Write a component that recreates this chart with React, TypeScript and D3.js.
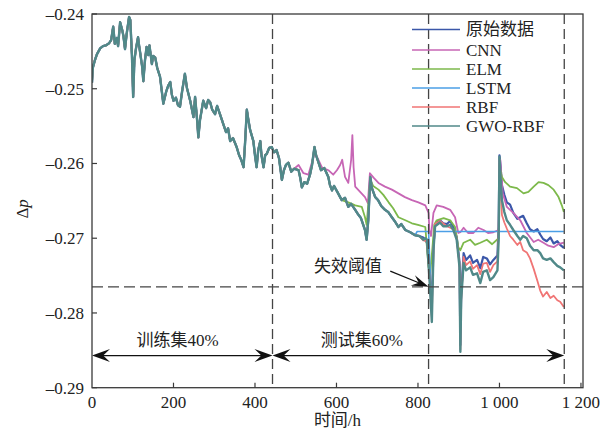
import React from 'react';
import * as d3 from 'd3';

// ---------- data ----------
const xTicks = [0, 200, 400, 600, 800, 1000, 1200];
const yTicks = [-0.24, -0.25, -0.26, -0.27, -0.28, -0.29];
const seriesNames = ['原始数据', 'CNN', 'ELM', 'LSTM', 'RBF', 'GWO-RBF'];
const seriesColors = ['#3b57a9', '#c766b5', '#7db94b', '#4b9fe6', '#f07575', '#508989'];

const trainEnd = 443; // h
const failureTime = 826; // h
const testEnd = 1159; // h
const failureThreshold = -0.2765;
const arrowLevel = -0.2857;

// shared history (all models overlap)
const commonPath: [number, number][] = [
  [0, -0.2492], [2, -0.2472], [7, -0.2462], [12, -0.2454], [20, -0.2446], [27, -0.2443], [34, -0.2442], [42, -0.2439], [47, -0.2435],
  [52, -0.2417], [54, -0.2428], [56, -0.244], [61, -0.2432], [64, -0.2443], [69, -0.2411], [74, -0.2421], [77, -0.2429], [81, -0.2447],
  [85, -0.2427], [91, -0.2404], [94, -0.2408], [98, -0.2455], [101, -0.2511], [104, -0.2462], [108, -0.2446], [113, -0.2431], [115, -0.244],
  [118, -0.2451], [123, -0.247], [126, -0.249], [130, -0.2462], [134, -0.2444], [138, -0.2455], [141, -0.2442], [147, -0.2467], [150, -0.2456],
  [155, -0.2458], [160, -0.2472], [167, -0.2484], [171, -0.2502], [175, -0.252], [182, -0.2504], [187, -0.2496], [192, -0.2491], [196, -0.2508],
  [200, -0.2516], [206, -0.2512], [211, -0.2522], [216, -0.2524], [221, -0.2504], [228, -0.248], [233, -0.2499], [241, -0.2516], [249, -0.2538],
  [253, -0.2511], [258, -0.2542], [261, -0.2565], [265, -0.2542], [273, -0.2516], [280, -0.2526], [285, -0.2515], [290, -0.2518], [295, -0.2528],
  [302, -0.2534], [307, -0.2523], [314, -0.2534], [319, -0.2542], [322, -0.2547], [329, -0.2558], [334, -0.2553], [339, -0.257], [346, -0.2566],
  [355, -0.2578], [361, -0.2589], [366, -0.2595], [372, -0.2605], [376, -0.2569], [380, -0.2528], [383, -0.2539], [388, -0.2555], [396, -0.257],
  [400, -0.2589], [404, -0.2605], [408, -0.2582], [413, -0.257], [416, -0.2589], [421, -0.2605], [425, -0.2589], [429, -0.2587], [435, -0.2579],
  [441, -0.2578], [447, -0.2585], [453, -0.2582],
  [459, -0.2593], [466, -0.2622], [471, -0.2609], [476, -0.2602], [482, -0.2599], [489, -0.2611], [496, -0.2607], [507, -0.2609], [511, -0.2619],
  [515, -0.2632], [521, -0.2625], [528, -0.2627], [535, -0.2615], [540, -0.2602], [546, -0.2578], [550, -0.2589], [556, -0.2599], [562, -0.2609],
  [570, -0.2606], [580, -0.2618], [584, -0.2629], [589, -0.2636], [594, -0.263], [602, -0.2638], [613, -0.2649], [621, -0.2646], [629, -0.2658],
  [636, -0.2654], [646, -0.2662], [653, -0.2668], [660, -0.2673], [670, -0.2689], [674, -0.2702], [678, -0.2676], [683, -0.2618], [687, -0.2633],
  [695, -0.2645], [702, -0.2649], [710, -0.2657], [719, -0.2662], [727, -0.2665], [736, -0.2672], [744, -0.2678], [752, -0.2685], [759, -0.2681],
  [769, -0.2689], [781, -0.2692], [793, -0.2696], [803, -0.2697],
];

const rawSplit = 803;
const rawTail: [number, number][] = [
  [813, -0.2699], [822, -0.2706], [828, -0.2743], [832, -0.2778], [836, -0.2756], [838, -0.2709], [842, -0.2681], [854, -0.2676], [862, -0.268],
  [871, -0.2681], [879, -0.2677], [887, -0.2685], [895, -0.2698], [902, -0.2732], [904, -0.2843], [906, -0.2776], [912, -0.272], [918, -0.2729],
  [928, -0.2723], [935, -0.2733], [945, -0.2729], [953, -0.274], [960, -0.2725], [969, -0.2727], [977, -0.2735], [985, -0.2729], [995, -0.2723],
  [998, -0.2684], [1000, -0.2589], [1003, -0.2606], [1006, -0.2629], [1012, -0.2642], [1018, -0.2652], [1026, -0.2655], [1034, -0.2666],
  [1044, -0.2674], [1051, -0.2672], [1058, -0.267], [1067, -0.268], [1075, -0.2688], [1084, -0.2691], [1093, -0.2688], [1100, -0.2695],
  [1107, -0.2701], [1116, -0.2704], [1125, -0.2699], [1133, -0.2707], [1142, -0.2704], [1149, -0.2709], [1158, -0.2713],
];

const cnnSplit = 496;
const cnnTail: [number, number][] = [
  [507, -0.2602], [519, -0.2613], [531, -0.2615], [547, -0.2585], [564, -0.2605], [580, -0.2609], [592, -0.2615], [601, -0.2609], [609, -0.2602],
  [614, -0.2595], [621, -0.2618], [629, -0.2626], [636, -0.2595], [639, -0.2562], [642, -0.2605], [646, -0.2631], [658, -0.2638], [670, -0.2645],
  [677, -0.2653], [682, -0.2613], [691, -0.2619], [703, -0.2626], [719, -0.2631], [736, -0.2635], [752, -0.264], [768, -0.2645], [785, -0.2649],
  [801, -0.2652], [818, -0.2656], [826, -0.2666], [828, -0.2689], [832, -0.2697], [838, -0.2666], [846, -0.2656], [862, -0.2658], [879, -0.2662],
  [891, -0.2672], [899, -0.2693], [904, -0.2692], [912, -0.2686], [923, -0.2693], [936, -0.2693], [948, -0.2686], [961, -0.2689], [972, -0.2693],
  [985, -0.2692], [998, -0.2689], [1002, -0.2595], [1008, -0.264], [1018, -0.2658], [1026, -0.2662], [1034, -0.2666], [1051, -0.2676],
  [1067, -0.2693], [1084, -0.2705], [1095, -0.2702], [1108, -0.2706], [1120, -0.271], [1133, -0.2712], [1144, -0.2708], [1158, -0.2706],
];

const elmSplit = 602;
const elmTail: [number, number][] = [
  [613, -0.2649], [629, -0.2652], [646, -0.2656], [662, -0.2658], [670, -0.2672], [674, -0.2682], [683, -0.2622], [690, -0.263], [703, -0.2635],
  [715, -0.2642], [728, -0.2652], [739, -0.266], [752, -0.2672], [769, -0.2676], [785, -0.268], [800, -0.2682], [818, -0.2685], [826, -0.2739],
  [830, -0.2747], [835, -0.2716], [840, -0.2682], [846, -0.2676], [863, -0.2673], [879, -0.2676], [891, -0.2685], [899, -0.2712], [904, -0.2716],
  [912, -0.2706], [928, -0.2702], [940, -0.2709], [953, -0.2706], [969, -0.2702], [982, -0.2708], [998, -0.27], [1002, -0.2609], [1006, -0.2618],
  [1014, -0.2625], [1026, -0.2631], [1043, -0.2633], [1059, -0.264], [1071, -0.2638], [1084, -0.2631], [1096, -0.2625], [1108, -0.2626],
  [1120, -0.2629], [1133, -0.2635], [1145, -0.2645], [1153, -0.2656], [1158, -0.2665],
];

const lstmSplit = 793;
const lstmTail: [number, number][] = [
  [798, -0.2691], [826, -0.2691], [830, -0.2745], [834, -0.28], [838, -0.2712], [842, -0.2691], [1158, -0.2691],
];

const rbfSplit = 803;
const rbfTail: [number, number][] = [
  [813, -0.2703], [822, -0.2704], [828, -0.2749], [834, -0.2805], [838, -0.2716], [842, -0.2681], [854, -0.2677], [871, -0.2684], [887, -0.2688],
  [895, -0.27], [902, -0.2736], [904, -0.2849], [906, -0.2783], [912, -0.2725], [918, -0.2736], [928, -0.2731], [935, -0.2741], [945, -0.2736],
  [953, -0.2748], [960, -0.2734], [969, -0.2733], [977, -0.2745], [985, -0.2736], [995, -0.2731], [998, -0.269], [1000, -0.2596], [1003, -0.2622],
  [1006, -0.2669], [1012, -0.2679], [1018, -0.2687], [1026, -0.2697], [1034, -0.2702], [1044, -0.2709], [1051, -0.2705], [1058, -0.2716],
  [1067, -0.2719], [1075, -0.2727], [1084, -0.2741], [1093, -0.2757], [1100, -0.277], [1107, -0.2778], [1116, -0.2772], [1125, -0.278],
  [1133, -0.2777], [1142, -0.2783], [1149, -0.2785], [1158, -0.2792],
];

const gwoSplit = 803;
const gwoTail: [number, number][] = [
  [813, -0.2702], [818, -0.27], [822, -0.2702], [828, -0.2752], [834, -0.2812], [838, -0.2716], [842, -0.2684], [854, -0.2679], [862, -0.2684],
  [871, -0.2684], [879, -0.2682], [887, -0.2689], [895, -0.2702], [902, -0.2739], [904, -0.2852], [906, -0.2783], [912, -0.2733], [918, -0.2743],
  [928, -0.2739], [935, -0.2749], [945, -0.2747], [953, -0.276], [960, -0.2745], [969, -0.2743], [977, -0.2756], [985, -0.2752], [995, -0.2743],
  [998, -0.2702], [1000, -0.2591], [1003, -0.2622], [1006, -0.2649], [1012, -0.2665], [1018, -0.2676], [1026, -0.2682], [1034, -0.2689],
  [1044, -0.2697], [1051, -0.2702], [1058, -0.2697], [1067, -0.27], [1075, -0.271], [1084, -0.2716], [1093, -0.2716], [1100, -0.272],
  [1107, -0.2727], [1116, -0.2729], [1125, -0.2727], [1133, -0.2732], [1142, -0.2737], [1149, -0.2739], [1158, -0.2743],
];

const splits = [rawSplit, cnnSplit, elmSplit, lstmSplit, rbfSplit, gwoSplit];
const tails = [rawTail, cnnTail, elmTail, lstmTail, rbfTail, gwoTail];
const strokeWidths = [2.2, 1.8, 1.8, 1.6, 1.8, 2.4];

// ---------- layout ----------
const W = 611;
const H = 432;
const M = { left: 92, right: 583, top: 14, bottom: 387.7 };
const FONT = "'Liberation Serif', 'Times New Roman', 'Noto Sans CJK SC', serif";
const AXIS = '#3a3a3a';

export default function App() {
  const x = d3.scaleLinear().domain([0, 1205]).range([M.left, M.right]);
  const y = d3.scaleLinear().domain([-0.29, -0.24]).range([M.bottom, M.top]);
  const line = d3
    .line<[number, number]>()
    .x((d) => x(d[0]))
    .y((d) => y(d[1]));

  const series = seriesNames.map((name, i) => ({
    name,
    color: seriesColors[i],
    width: strokeWidths[i],
    data: [...commonPath.filter((d) => d[0] <= splits[i]), ...tails[i]],
  }));

  const fmtX = (v: number) => (v >= 1000 ? d3.format(',')(v).replace(',', ' ') : String(v));
  const fmtY = (v: number) => d3.format('.2f')(v).replace('−', '–');

  // stealth-style arrow head path, tip at (tx,ty) pointing along angle a
  const head = (tx: number, ty: number, a: number, L = 18, Wd = 13) => {
    const c = Math.cos(a), s = Math.sin(a);
    const p = (u: number, v: number) => [tx - u * c - v * -s, ty - u * s - v * c];
    const b1 = p(L, Wd / 2), b2 = p(L, -Wd / 2), n = p(L * 0.62, 0);
    return `M${tx},${ty}L${b1[0]},${b1[1]}L${n[0]},${n[1]}L${b2[0]},${b2[1]}Z`;
  };

  const ay = y(arrowLevel);
  const xl = x(0), xm = x(trainEnd), xr = x(testEnd);
  const annTip: [number, number] = [x(failureTime), y(failureThreshold)];
  const annStart: [number, number] = [x(732), y(-0.2744)];
  const annAng = Math.atan2(annTip[1] - annStart[1], annTip[0] - annStart[0]);

  const legendY = (i: number) => (i === 0 ? 29.5 : 50 + (i - 1) * 19);

  return (
    <svg
      width={W}
      height={H}
      style={{ position: 'absolute', left: 0, top: 0, background: '#fff', display: 'block' }}
      fontFamily={FONT}
    >
      <rect x={0} y={0} width={W} height={H} fill="#fff" />
      <defs>
        <clipPath id="plotclip">
          <rect x={M.left} y={M.top} width={M.right - M.left} height={M.bottom - M.top} />
        </clipPath>
      </defs>

      {/* series */}
      <g clipPath="url(#plotclip)" fill="none" strokeLinejoin="round">
        {series.map((s) => (
          <path key={s.name} d={line(s.data) || ''} stroke={s.color} strokeWidth={s.width} />
        ))}
      </g>

      {/* dashed reference lines */}
      <g stroke="#444" strokeWidth={1.3} strokeDasharray="10,5" fill="none">
        {[trainEnd, failureTime, testEnd].map((t) => (
          <line key={t} x1={x(t)} x2={x(t)} y1={M.top} y2={M.bottom} />
        ))}
        <line x1={M.left} x2={M.right} y1={y(failureThreshold)} y2={y(failureThreshold)} strokeDasharray="11,5" />
      </g>

      {/* train/test arrows */}
      <g stroke="#111" strokeWidth={1.3} fill="#111">
        <line x1={xl + 8} x2={xm - 8} y1={ay} y2={ay} />
        <line x1={xm + 8} x2={xr - 8} y1={ay} y2={ay} />
        <path d={head(xl, ay, Math.PI)} stroke="none" />
        <path d={head(xm, ay, 0)} stroke="none" />
        <path d={head(xm, ay, Math.PI)} stroke="none" />
        <path d={head(xr, ay, 0)} stroke="none" />
      </g>
      <text x={x(210)} y={y(-0.2844)} textAnchor="middle" fontSize={17} fill="#222">训练集40%</text>
      <text x={x(662)} y={y(-0.2844)} textAnchor="middle" fontSize={17} fill="#222">测试集60%</text>

      {/* failure threshold annotation */}
      <text x={x(712)} y={y(-0.2745)} textAnchor="end" fontSize={17} fill="#222">失效阈值</text>
      <line x1={annStart[0]} y1={annStart[1]} x2={annTip[0] - 10 * Math.cos(annAng)} y2={annTip[1] - 10 * Math.sin(annAng)} stroke="#111" strokeWidth={1.3} />
      <path d={head(annTip[0], annTip[1], annAng, 17, 11)} fill="#111" />

      {/* frame */}
      <rect x={M.left} y={M.top} width={M.right - M.left} height={M.bottom - M.top} fill="none" stroke={AXIS} strokeWidth={1.3} />

      {/* x axis */}
      <g fontSize={17} fill="#222" textAnchor="middle">
        {xTicks.map((t) => (
          <g key={t}>
            {t > 0 && t < 1205 && <line x1={x(t)} x2={x(t)} y1={M.bottom} y2={M.bottom - 5} stroke={AXIS} strokeWidth={1.2} />}
            <text x={x(t)} y={M.bottom + 20}>{fmtX(t)}</text>
          </g>
        ))}
        <text x={(M.left + M.right) / 2} y={426} fontSize={17}>时间/h</text>
      </g>

      {/* y axis */}
      <g fontSize={17} fill="#222" textAnchor="end">
        {yTicks.map((t) => (
          <g key={t}>
            <line x1={M.left} x2={M.left + 5} y1={y(t)} y2={y(t)} stroke={AXIS} strokeWidth={1.2} />
            <text x={M.left - 8} y={y(t)} dy="0.35em">{fmtY(t)}</text>
          </g>
        ))}
        <text transform={`translate(28,${(M.top + M.bottom) / 2 + 8}) rotate(-90)`} textAnchor="middle" fontSize={17}>
          Δ<tspan fontStyle="italic">p</tspan>
        </text>
      </g>

      {/* legend */}
      <g fontSize={17} fill="#222">
        {series.map((s, i) => (
          <g key={s.name}>
            <line x1={412} x2={460} y1={legendY(i)} y2={legendY(i)} stroke={s.color} strokeWidth={1.6} />
            <text x={466} y={legendY(i)} dy="0.35em">{s.name}</text>
          </g>
        ))}
      </g>
    </svg>
  );
}
